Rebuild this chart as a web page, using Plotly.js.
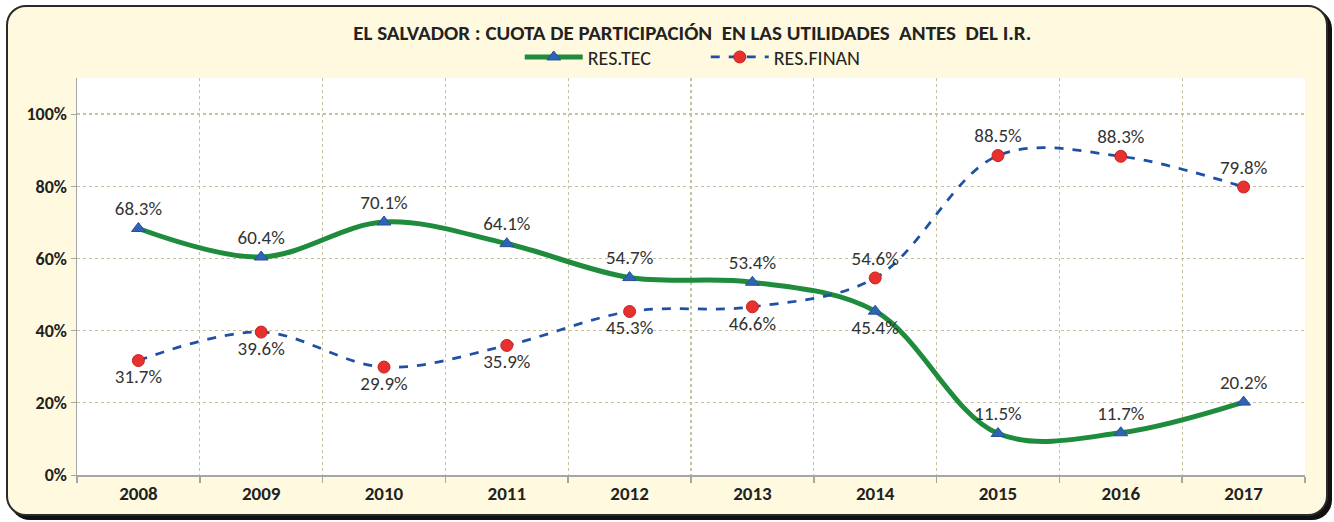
<!DOCTYPE html>
<html>
<head>
<meta charset="utf-8">
<script src="https://cdn.plot.ly/plotly-3.0.1.min.js"></script>
<style>
  html, body { margin: 0; padding: 0; width: 1334px; height: 522px; overflow: hidden; background: #ffffff; }
  #frame { position: absolute; left: 6px; top: 5px; width: 1318px; height: 507px;
           background: #fffadf; border: 2px solid #2a2a2a; border-radius: 20px;
           box-shadow: 4px 4px 0 0 #111; }
  #chart { position: absolute; left: 0; top: 0; width: 1334px; height: 522px; }
</style>
</head>
<body>
<div id="frame"></div>
<div id="chart"></div>
<script>
const years = ['2008','2009','2010','2011','2012','2013','2014','2015','2016','2017'];
const resTec = [68.3, 60.4, 70.1, 64.1, 54.7, 53.4, 45.4, 11.5, 11.7, 20.2];
const resFinan = [31.7, 39.6, 29.9, 35.9, 45.3, 46.6, 54.6, 88.5, 88.3, 79.8];
const tecLabelPos = ['top center','top center','top center','top center','top center','top center','bottom center','top center','top center','top center'];
const finanLabelPos = ['bottom center','bottom center','bottom center','bottom center','bottom center','bottom center','top center','top center','top center','top center'];
const yTicks = [0, 20, 40, 60, 80, 100];

const FONT = "Carlito, 'Liberation Sans Narrow', 'Open Sans', 'Noto Sans', sans-serif";

const traces = [
  {
    x: years, y: resTec, name: 'RES.TEC', type: 'scatter', mode: 'lines+markers+text',
    line: {color: '#1e8c3c', width: 5, shape: 'spline', smoothing: 1},
    marker: {symbol: 'triangle-up', size: 12, color: '#2f63b3', line: {color: '#27519a', width: 1}},
    texttemplate: '%{y:.1f}%', textposition: tecLabelPos,
    textfont: {family: FONT, size: 19, color: '#333333'},
    cliponaxis: false, hoverinfo: 'skip'
  },
  {
    x: years, y: resFinan, name: 'RES.FINAN', type: 'scatter', mode: 'lines+markers+text',
    line: {color: '#1f50a6', width: 2.75, dash: 'dash', shape: 'spline', smoothing: 1},
    marker: {symbol: 'circle', size: 12, color: '#e8302e', line: {color: '#c62222', width: 1}},
    texttemplate: '%{y:.1f}%', textposition: finanLabelPos,
    textfont: {family: FONT, size: 19, color: '#333333'},
    cliponaxis: false, hoverinfo: 'skip'
  }
];

const layout = {
  width: 1334, height: 522,
  paper_bgcolor: 'rgba(0,0,0,0)', plot_bgcolor: '#ffffff',
  margin: {l: 77, r: 29, t: 78, b: 47},
  font: {family: FONT, color: '#222222'},
  title: {
    text: '<b>EL SALVADOR : CUOTA DE PARTICIPACIÓN  EN LAS UTILIDADES  ANTES  DEL I.R.</b>',
    font: {family: FONT, size: 21, color: '#222222'},
    x: 0.519, xanchor: 'center', y: 0.937, yanchor: 'middle', yref: 'container'
  },
  showlegend: true,
  legend: {
    orientation: 'h', x: 0.512, xanchor: 'center', y: 1.053, yanchor: 'middle',
    font: {family: FONT, size: 20, color: '#222222'}, bgcolor: 'rgba(0,0,0,0)',
    itemwidth: 58, entrywidth: 113, entrywidthmode: 'pixels', tracegroupgap: 0
  },
  xaxis: {
    type: 'category', tickson: 'boundaries', range: [-0.5, 9.5],
    showline: true, linecolor: '#a6a6a6', linewidth: 2,
    ticks: 'outside', ticklen: 6, tickcolor: '#a6a6a6', tickwidth: 1.5,
    showgrid: true, gridcolor: '#c6c09c', griddash: 'dot', gridwidth: 1.2,
    tickfont: {family: FONT, size: 19, color: '#222222', weight: 'bold'},
    fixedrange: true
  },
  yaxis: {
    range: [0, 110], tickvals: yTicks, ticktext: yTicks.map(v => '<b>' + v + '%</b>'),
    showline: true, linecolor: '#a6a6a6', linewidth: 1.5,
    ticks: 'outside', ticklen: 5, tickcolor: '#a6a6a6',
    showgrid: true, gridcolor: '#c6c09c', griddash: 'dot', gridwidth: 1.2,
    zeroline: false,
    tickfont: {family: FONT, size: 18, color: '#222222'},
    fixedrange: true
  }
};

Plotly.newPlot('chart', traces, layout, {displayModeBar: false, staticPlot: true});
</script>
</body>
</html>
